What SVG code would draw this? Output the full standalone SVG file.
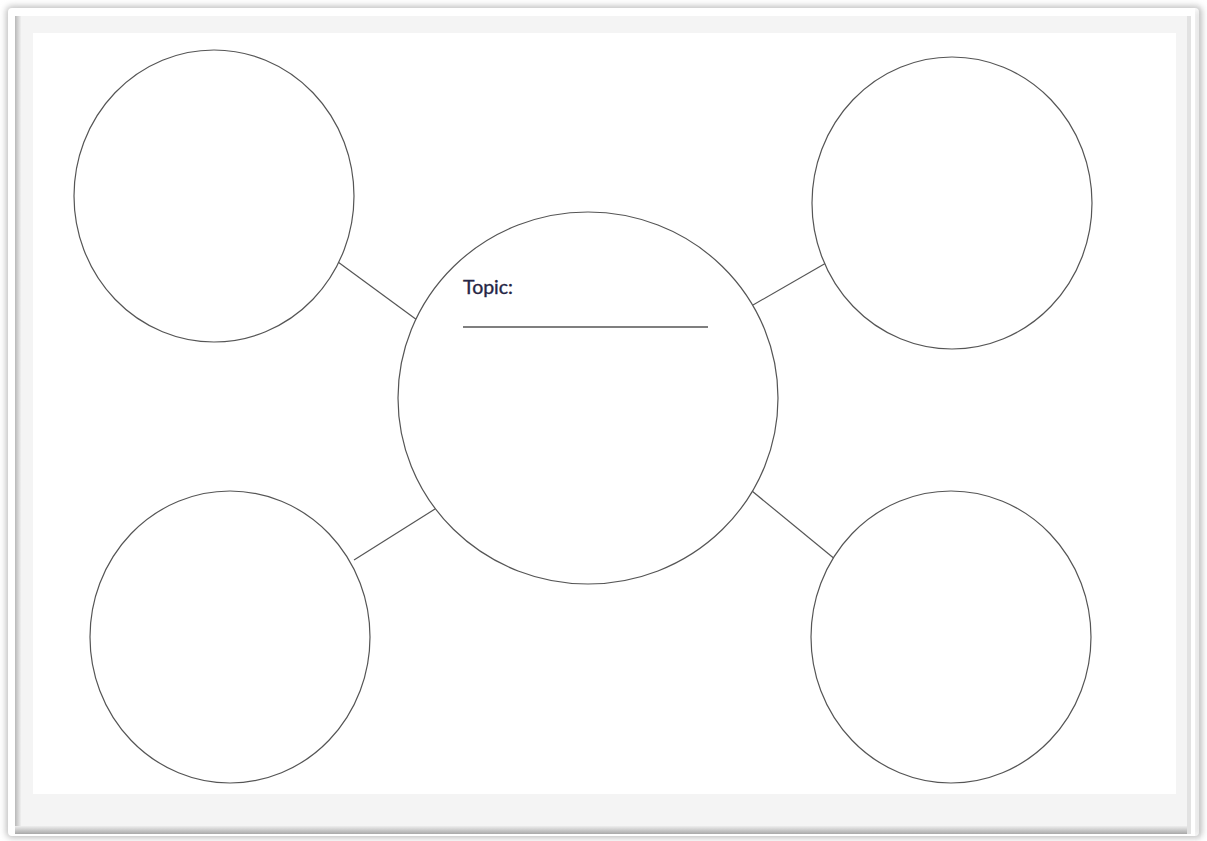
<svg xmlns="http://www.w3.org/2000/svg" width="1207" height="841" viewBox="0 0 1207 841">
<defs>
<filter id="shadow" x="-5%" y="-5%" width="110%" height="110%">
<feGaussianBlur stdDeviation="3"/>
</filter>
<linearGradient id="leftBevel" x1="0" y1="0" x2="1" y2="0">
<stop offset="0" stop-color="#b8b8b8"/>
<stop offset="1" stop-color="#f0f0f0"/>
</linearGradient>
<linearGradient id="bottomBevel" x1="0" y1="0" x2="0" y2="1">
<stop offset="0" stop-color="#eeeeee"/>
<stop offset="1" stop-color="#a8a8a8"/>
</linearGradient>
</defs>
<style>
.node{fill:#ffffff;stroke:#555555;stroke-width:1.2}
.link{stroke:#555555;stroke-width:1.2;fill:none}
.label{font-family:"Lato","Open Sans",sans-serif;font-size:19.5px;fill:#252545;stroke:#252545;stroke-width:0.35}
</style>
<rect x="0" y="0" width="1207" height="841" fill="#ffffff"/>
<!-- outer card with shadow -->
<rect x="6" y="6" width="1196" height="832" rx="6" fill="#c0c0c0" filter="url(#shadow)"/>
<rect x="8" y="8" width="1191" height="828" rx="4" fill="#ffffff"/>
<!-- frame bevel -->
<rect x="15" y="16" width="1176" height="818" fill="#f4f4f4"/>
<rect x="15" y="16" width="6" height="818" fill="url(#leftBevel)"/>
<rect x="15" y="826" width="1176" height="8" fill="url(#bottomBevel)"/>
<rect x="1187" y="16" width="4" height="818" fill="#e2e2e2"/>
<rect x="1196" y="10" width="4" height="826" fill="#d0d0d0" filter="url(#shadow)"/>
<rect x="33" y="33" width="1143" height="761" fill="#ffffff"/>

<g id="connectors">
<line class="link" x1="338" y1="262" x2="417" y2="320"/>
<line class="link" x1="826" y1="263" x2="753" y2="305"/>
<line class="link" x1="354" y1="560" x2="435" y2="509"/>
<line class="link" x1="752" y1="491" x2="836" y2="560"/>
</g>
<g id="center">
<ellipse class="node" cx="588" cy="398" rx="190" ry="186"/>
<text class="label" x="463" y="294">Topic:</text>
<line x1="463" y1="327" x2="708" y2="327" stroke="#555555" stroke-width="1.3"/>
</g>
<g id="top-left"><ellipse class="node" cx="214" cy="196" rx="140" ry="146"/></g>
<g id="top-right"><ellipse class="node" cx="952" cy="203" rx="140" ry="146"/></g>
<g id="bottom-left"><ellipse class="node" cx="230" cy="637" rx="140" ry="146"/></g>
<g id="bottom-right"><ellipse class="node" cx="951" cy="637" rx="140" ry="146"/></g>
</svg>
